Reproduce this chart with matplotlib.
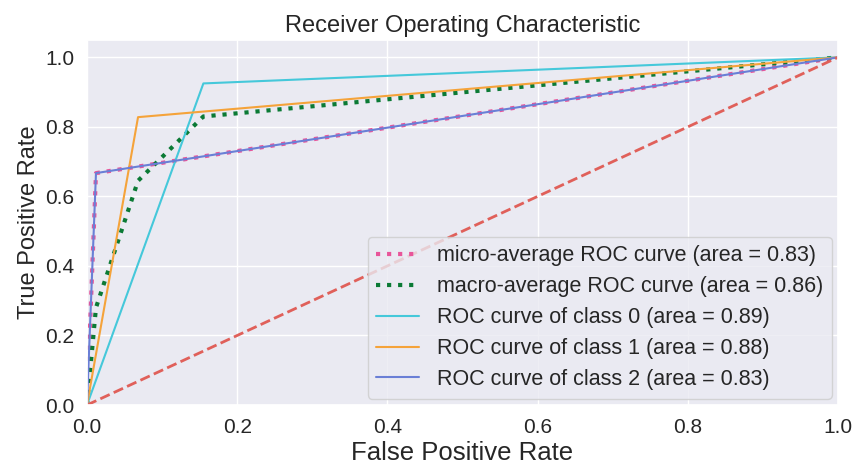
import matplotlib
matplotlib.use("Agg")
import matplotlib.pyplot as plt
import seaborn as sns

sns.set_theme(style="darkgrid")
plt.rcParams['font.family'] = ['Liberation Sans', 'DejaVu Sans']

# curve points
micro_fpr = [0.0, 0.012, 1.0]
micro_tpr = [0.0, 0.667, 1.0]
macro_fpr = [0.0, 0.012, 0.068, 0.155, 1.0]
macro_tpr = [0.0, 0.28, 0.645, 0.83, 1.0]
class_fpr = [[0.0, 0.155, 1.0], [0.0, 0.068, 1.0], [0.0, 0.012, 1.0]]
class_tpr = [[0.0, 0.925, 1.0], [0.0, 0.828, 1.0], [0.0, 0.667, 1.0]]
class_auc = [0.89, 0.88, 0.83]
micro_auc = 0.83
macro_auc = 0.86

class_colors = ['#45c8da', '#f5a33a', '#6a7fd6']

fig = plt.figure(figsize=(8.56, 4.68), dpi=100)
ax = fig.add_axes([0.1016, 0.1346, 0.8774, 0.78])

ax.plot(micro_fpr, micro_tpr, color='#e8559a', linestyle=':', linewidth=3,
        label=f'micro-average ROC curve (area = {micro_auc:.2f})')
ax.plot(macro_fpr, macro_tpr, color='#0b7a35', linestyle=':', linewidth=3,
        label=f'macro-average ROC curve (area = {macro_auc:.2f})')
for i in range(3):
    ax.plot(class_fpr[i], class_tpr[i], color=class_colors[i], linewidth=1.5,
            label=f'ROC curve of class {i} (area = {class_auc[i]:.2f})')
ax.plot([0, 1], [0, 1], color='#e0605a', linestyle='--', linewidth=2)

ax.set_xlim(0.0, 1.0)
ax.set_ylim(0.0, 1.05)
ax.tick_params(labelsize=15, pad=3)
ax.set_xlabel('False Positive Rate', fontsize=18.5, labelpad=3)
ax.set_ylabel('True Positive Rate', fontsize=17, labelpad=4)
ax.set_title('Receiver Operating Characteristic', fontsize=17, pad=6)
ax.legend(loc='lower right', fontsize=15.5, labelspacing=0.46,
          borderaxespad=0.3)

fig.savefig('out.png', dpi=100)
